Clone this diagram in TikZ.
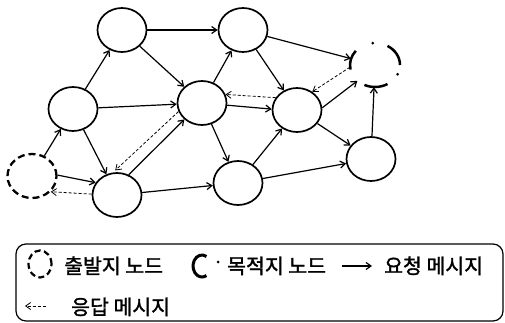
\documentclass[tikz,border=0pt]{standalone}
\usepackage{fontspec}
\newfontfamily\kofont{Noto Sans CJK KR}[FakeBold=1.5]
\usetikzlibrary{shapes.geometric, arrows.meta}

\begin{document}
\begin{tikzpicture}[
  x=1pt, y=1pt,
  peer/.style={draw, ellipse, line width=1.7pt, minimum width=49pt, minimum height=44pt, inner sep=0pt},
  srcpeer/.style={peer, dash pattern=on 7pt off 4pt, line width=2.3pt},
  dstpeer/.style={ellipse, minimum width=50pt, minimum height=44pt, inner sep=0pt},
  dstarc/.style={line width=2.5pt},
  req/.style={line width=1.2pt, -{Straight Barb[length=5pt, width=7pt]}},
  resp/.style={line width=0.8pt, dash pattern=on 3pt off 2pt, -{Straight Barb[length=5pt, width=7pt]}},
  legtext/.style={font=\kofont\fontsize{20.5}{24}\selectfont, inner sep=0pt, anchor=base west},
  legbox/.style={draw, line width=1.2pt, rounded corners=10pt}
]
  \useasboundingbox (0,0) rectangle (505,-323);

  \node[srcpeer] (src) at (32,-176) {};
  \node[dstpeer] (dst) at (375,-65) {};
  \node[peer] (p1) at (73,-109) {};
  \node[peer] (p2) at (122,-30) {};
  \node[peer] (p3) at (117,-195) {};
  \node[peer] (p4) at (202,-103) {};
  \node[peer] (p5) at (243,-30) {};
  \node[peer] (p6) at (238,-183) {};
  \node[peer] (p7) at (297,-110) {};
  \node[peer] (p8) at (371,-159) {};

  \draw[dstarc] ([shift={(140:25pt and 22pt)}]dst.center) arc[start angle=140, end angle=192, x radius=25pt, y radius=22pt];
  \draw[dstarc] ([shift={(245:25pt and 22pt)}]dst.center) arc[start angle=245, end angle=300, x radius=25pt, y radius=22pt];
  \draw[dstarc] ([shift={(0:25pt and 22pt)}]dst.center) arc[start angle=0, end angle=60, x radius=25pt, y radius=22pt];
  \fill ([shift={(95:25pt and 22pt)}]dst.center) circle (1.5pt);
  \fill ([shift={(335:25pt and 22pt)}]dst.center) circle (1.5pt);

  \draw[req] (src) -- (p1);
  \draw[req] (src.2) -- (p3.150);
  \draw[req] (p1) -- (p2);
  \draw[req] (p1) -- (p4);
  \draw[req] (p1) -- (p3);
  \draw[req] (p2) -- (p5);
  \draw[req] (p2) -- (p4);
  \draw[req] (p3.60) -- (p4.223);
  \draw[req] (p3) -- (p6);
  \draw[req] (p4) -- (p5);
  \draw[req] (p4) -- (p6);
  \draw[req] (p4.-5) -- (p7.178);
  \draw[req] (p5) -- (dst);
  \draw[req] (p5) -- (p7);
  \draw[req] (p6) -- (p7);
  \draw[req] (p6) -- (p8);
  \draw[req] (p7) -- (p8);
  \draw[req] (p7.5) -- (dst.222);
  \draw[req] (p8) -- (dst);

  \draw[resp] (p3.178) -- (src.-40);
  \draw[resp, shorten >=3pt] (p4.200) -- (p3.100);
  \draw[resp] (p7.150) -- (p4.20);
  \draw[resp] (dst.185) -- (p7.50);

  \draw[legbox] (16,-244) rectangle (503,-321);

  \node[srcpeer, minimum width=23pt, minimum height=27pt, line width=2.2pt, dash pattern=on 6pt off 3.5pt] (srcicon) at (40,-264) {};
  \node[legtext] (srctext) at (64,-273.5) {출발지 노드};
  \node[dstpeer, minimum width=18pt, minimum height=22pt] (dsticon) at (202,-266) {};
  \draw[dstarc, line width=3pt] ([shift={(60:9pt and 11pt)}]dsticon.center) arc[start angle=60, end angle=300, x radius=9pt, y radius=11pt];
  \fill (218,-262) circle (1.5pt);
  \node[legtext] (dsttext) at (227,-273.5) {목적지 노드};
  \coordinate (reqa) at (342,-266);
  \coordinate (reqb) at (372,-266);
  \draw[req] (reqa) -- (reqb);
  \node[legtext] (reqtext) at (384,-273.5) {요청 메시지};
  \coordinate (respa) at (46,-306);
  \coordinate (respb) at (25,-306);
  \draw[resp] (respa) -- (respb);
  \node[legtext] (resptext) at (71,-314.5) {응답 메시지};
\end{tikzpicture}
\end{document}
